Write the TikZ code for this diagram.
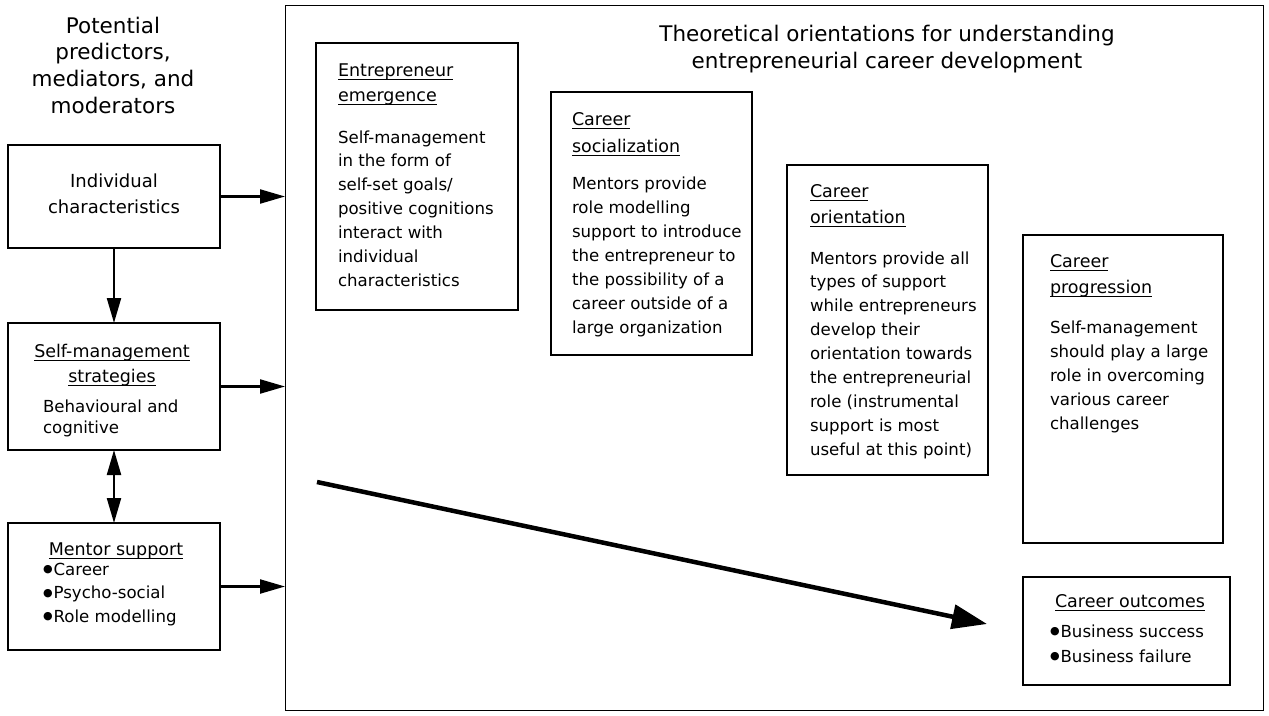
\documentclass[tikz,border=0pt]{standalone}
\usepackage{fontspec}
\setmainfont{DejaVu Sans}
\usetikzlibrary{arrows.meta}
\newcommand{\ulx}[1]{\setbox0=\hbox{#1}\rlap{\rule[-4pt]{\wd0}{0.9pt}}\box0}
\newcommand{\stx}{\rule{0pt}{20pt}}
\newcommand{\bul}{\raisebox{2.3pt}{\fontsize{11}{11}\selectfont ●}\kern1pt}
\newcommand{\fbody}{\fontsize{16.6}{23.9}\selectfont}
\newcommand{\ftitle}{\fontsize{17.5}{26}\selectfont}
\begin{document}
\begin{tikzpicture}[x=1pt,y=-1pt,
  box/.style={draw, line width=1.5pt, inner sep=0pt, outer sep=0pt},
  lbl/.style={inner sep=0pt, outer sep=0pt, anchor=north west, align=left},
  clbl/.style={inner sep=0pt, outer sep=0pt, anchor=north, align=center},
  conn/.style={line width=2.2pt, -{Triangle[length=25pt,width=14pt]}},
  dconn/.style={line width=2.2pt, {Triangle[length=25pt,width=14pt]}-{Triangle[length=25pt,width=14pt]}},
  bigconn/.style={line width=4.5pt, -{Triangle[length=35pt,width=24pt]}}]
\useasboundingbox (0,0) rectangle (1269,715);

% frame
\node[draw, line width=1pt, inner sep=0pt, outer sep=0pt, minimum width=978pt, minimum height=705pt] (frame) at (774,357.5) {};

% boxes
\node[box, minimum width=212pt, minimum height=103pt] (ind) at (114,196.5) {};
\node[box, minimum width=212pt, minimum height=127pt] (sms) at (114,386.5) {};
\node[box, minimum width=212pt, minimum height=127pt] (men) at (114,586.5) {};
\node[box, minimum width=202pt, minimum height=267pt] (emg) at (417,176.5) {};
\node[box, minimum width=201pt, minimum height=263pt] (soc) at (651.5,223.5) {};
\node[box, minimum width=201pt, minimum height=310pt] (ori) at (887.5,320) {};
\node[box, minimum width=200pt, minimum height=308pt] (pro) at (1123,389) {};
\node[box, minimum width=207pt, minimum height=108pt] (out) at (1126.5,631) {};

% headings
\node[clbl, font=\fontsize{21.5}{26.7}\selectfont] (ttl1) at (113,13) {\stx Potential\\predictors,\\mediators, and\\moderators};
\node[clbl, font=\fontsize{21.5}{27}\selectfont] (ttl2) at (887,21.5) {\stx Theoretical orientations for understanding\\entrepreneurial career development};

% left column texts
\node[clbl, font=\fontsize{18}{26}\selectfont] (indt) at (114,167) {\stx Individual\\characteristics};
\node[clbl, font=\fontsize{17.5}{25}\selectfont] (smst) at (112,337) {\stx\ulx{Self-management}\\\ulx{strategies}};
\node[lbl, font=\fontsize{16.6}{21.5}\selectfont] (smsb) at (43,392) {\stx Behavioural and\\cognitive};
\node[clbl, font=\ftitle] (ment) at (116,535) {\stx\ulx{Mentor support}};
\node[lbl, font=\fontsize{16.6}{23.5}\selectfont] (menb) at (43,555) {\stx\bul Career\\\bul Psycho-social\\\bul Role modelling};

% orientation boxes texts
\node[lbl, font=\fontsize{17.5}{25}\selectfont] (emgt) at (338,56) {\stx\ulx{Entrepreneur}\\\ulx{emergence}};
\node[lbl, font=\fbody] (emgb) at (338,123) {\stx Self-management\\in the form of\\self-set goals/\\positive cognitions\\interact with\\individual\\characteristics};

\node[lbl, font=\fontsize{17.5}{27}\selectfont] (soct) at (572,105) {\stx\ulx{Career}\\\ulx{socialization}};
\node[lbl, font=\fontsize{16.6}{24}\selectfont] (socb) at (572,169) {\stx Mentors provide\\role modelling\\support to introduce\\the entrepreneur to\\the possibility of a\\career outside of a\\large organization};

\node[lbl, font=\ftitle] (orit) at (810,177) {\stx\ulx{Career}\\\ulx{orientation}};
\node[lbl, font=\fbody] (orib) at (810,244) {\stx Mentors provide all\\types of support\\while entrepreneurs\\develop their\\orientation towards\\the entrepreneurial\\role (instrumental\\support is most\\useful at this point)};

\node[lbl, font=\ftitle] (prot) at (1050,247) {\stx\ulx{Career}\\\ulx{progression}};
\node[lbl, font=\fontsize{16.6}{24}\selectfont] (prob) at (1050,313) {\stx Self-management\\should play a large\\role in overcoming\\various career\\challenges};

\node[clbl, font=\ftitle] (outt) at (1130,587) {\stx\ulx{Career outcomes}};
\node[lbl, font=\fontsize{16.6}{25}\selectfont] (outb) at (1050,617) {\stx\bul Business success\\\bul Business failure};

% connectors
\draw[conn] (ind.east) -- (ind.east -| frame.west);
\draw[conn] (sms.east) -- (sms.east -| frame.west);
\draw[conn] (men.east) -- (men.east -| frame.west);
\draw[conn] (ind.south) -- (sms.north);
\draw[dconn] (sms.south) -- (men.north);
\coordinate (ds) at (317,482);
\coordinate (de) at (987,624);
\draw[bigconn] (ds) -- (de);
\end{tikzpicture}
\end{document}
